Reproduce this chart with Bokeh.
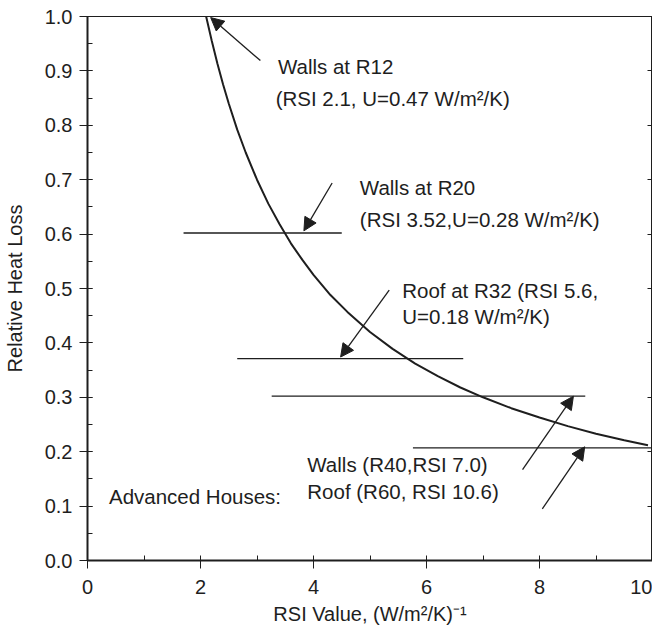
from bokeh.plotting import figure
from bokeh.models import (Range1d, LinearAxis, SingleIntervalTicker, PrintfTickFormatter,
                          Arrow, NormalHead, ColumnDataSource, CustomJSTickFormatter)
from bokeh.core.properties import value
from bokeh.embed import file_html
from bokeh.resources import INLINE

# ---- data ----
rsi = [2.1, 2.2, 2.3, 2.4, 2.5, 2.65, 2.8, 3.0, 3.2, 3.4, 3.6, 3.8, 4.0, 4.3, 4.6,
       5.0, 5.4, 5.8, 6.2, 6.6, 7.0, 7.5, 8.0, 8.5, 9.0, 9.5, 9.92]
heat_loss = [1.0, 0.955, 0.913, 0.875, 0.84, 0.792, 0.75, 0.70, 0.656, 0.618, 0.583,
             0.553, 0.525, 0.488, 0.457, 0.42, 0.389, 0.362, 0.339, 0.318, 0.30, 0.28,
             0.263, 0.247, 0.233, 0.221, 0.212]

# horizontal reference lines (start RSI, end RSI, level)
ref_x0 = [1.70, 2.65, 3.26, 5.76]
ref_x1 = [4.50, 6.65, 8.81, 10.0]
ref_y = [0.602, 0.371, 0.302, 0.207]

# arrows (tail -> head)
arr_x0 = [3.06, 4.33, 5.34, 7.70, 8.05]
arr_y0 = [0.919, 0.694, 0.497, 0.167, 0.095]
arr_x1 = [2.18, 3.83, 4.48, 8.60, 8.80]
arr_y1 = [0.998, 0.606, 0.374, 0.302, 0.209]

# annotation texts
ann_text = ["Walls at R12", "(RSI 2.1, U=0.47 W/m\u00b2/K)",
            "Walls at R20", "(RSI 3.52,U=0.28 W/m\u00b2/K)",
            "Roof  at R32 (RSI 5.6,", "U=0.18 W/m\u00b2/K)",
            "Advanced Houses:", "Walls (R40,RSI 7.0)", "Roof (R60, RSI 10.6)"]
ann_x = [3.37, 3.33, 4.82, 4.82, 5.57, 5.57, 0.38, 3.89, 3.89]
ann_y = [0.909, 0.849, 0.685, 0.627, 0.496, 0.449, 0.117, 0.176, 0.127]

x_label = "RSI Value, (W/m\u00b2/K)\u207b\u00b9"
y_label = "Relative Heat Loss"

FONT = "Liberation Sans"
INK = "#1e1e1e"

p = figure(width=652, height=627,
           x_range=Range1d(0, 10), y_range=Range1d(0, 1),
           output_backend="svg", toolbar_location=None,
           min_border_left=82, min_border_right=0, min_border_top=16, min_border_bottom=66,
           background_fill_color="white", border_fill_color="white")
p.grid.visible = False
p.outline_line_color = INK
p.outline_line_width = 1

for ax in (p.xaxis[0], p.yaxis[0]):
    ax.axis_line_width = 2
    ax.axis_line_color = INK
    ax.major_tick_line_color = INK
    ax.minor_tick_line_color = INK
    ax.major_tick_out = 8
    ax.major_tick_in = 0
    ax.minor_tick_in = 5
    ax.minor_tick_out = 0
    ax.major_label_text_font = FONT
    ax.major_label_text_font_size = "20px"
    ax.major_label_text_color = INK
    ax.axis_label_text_font = FONT
    ax.axis_label_text_font_size = "20px"
    ax.axis_label_text_font_style = "normal"
    ax.axis_label_text_color = INK

p.xaxis[0].ticker = SingleIntervalTicker(interval=2, num_minor_ticks=2)
p.yaxis[0].ticker = SingleIntervalTicker(interval=0.1, num_minor_ticks=2)
p.yaxis[0].formatter = PrintfTickFormatter(format="%.1f")
p.xaxis[0].axis_label = x_label
p.yaxis[0].axis_label = y_label
p.xaxis[0].major_label_standoff = 11
p.yaxis[0].major_label_standoff = 7
p.xaxis[0].axis_label_standoff = 6
p.yaxis[0].axis_label_standoff = 16
p.yaxis[0].major_tick_in = 5

right = LinearAxis(ticker=SingleIntervalTicker(interval=0.1, num_minor_ticks=0),
                   formatter=CustomJSTickFormatter(code="return ''"),
                   axis_line_width=2, axis_line_color=INK,
                   major_tick_in=5, major_tick_out=0, major_tick_line_color=INK,
                   minor_tick_line_color=None, major_label_standoff=0,
                   axis_label_standoff=0,
                   major_label_text_font_size="0px")
p.add_layout(right, "right")

# curve
p.line(rsi, heat_loss, line_width=2, line_color=INK)

# reference lines
p.segment(x0=ref_x0, y0=ref_y, x1=ref_x1, y1=ref_y, line_width=1.3, line_color=INK)

# arrows
arrow_src = ColumnDataSource(dict(x0=arr_x0, y0=arr_y0, x1=arr_x1, y1=arr_y1))
p.add_layout(Arrow(source=arrow_src, x_start="x0", y_start="y0", x_end="x1", y_end="y1",
                   line_width=1.3, line_color=INK,
                   end=NormalHead(size=13, fill_color=INK, line_color=INK, line_width=1)))

# annotation texts
txt_src = ColumnDataSource(dict(x=ann_x, y=ann_y, t=ann_text))
p.text(x="x", y="y", text="t", source=txt_src, text_font=value(FONT),
       text_font_size="20.5px", text_color=INK, text_align="left", text_baseline="alphabetic")

open("out.html", "w").write(file_html(p, INLINE))
